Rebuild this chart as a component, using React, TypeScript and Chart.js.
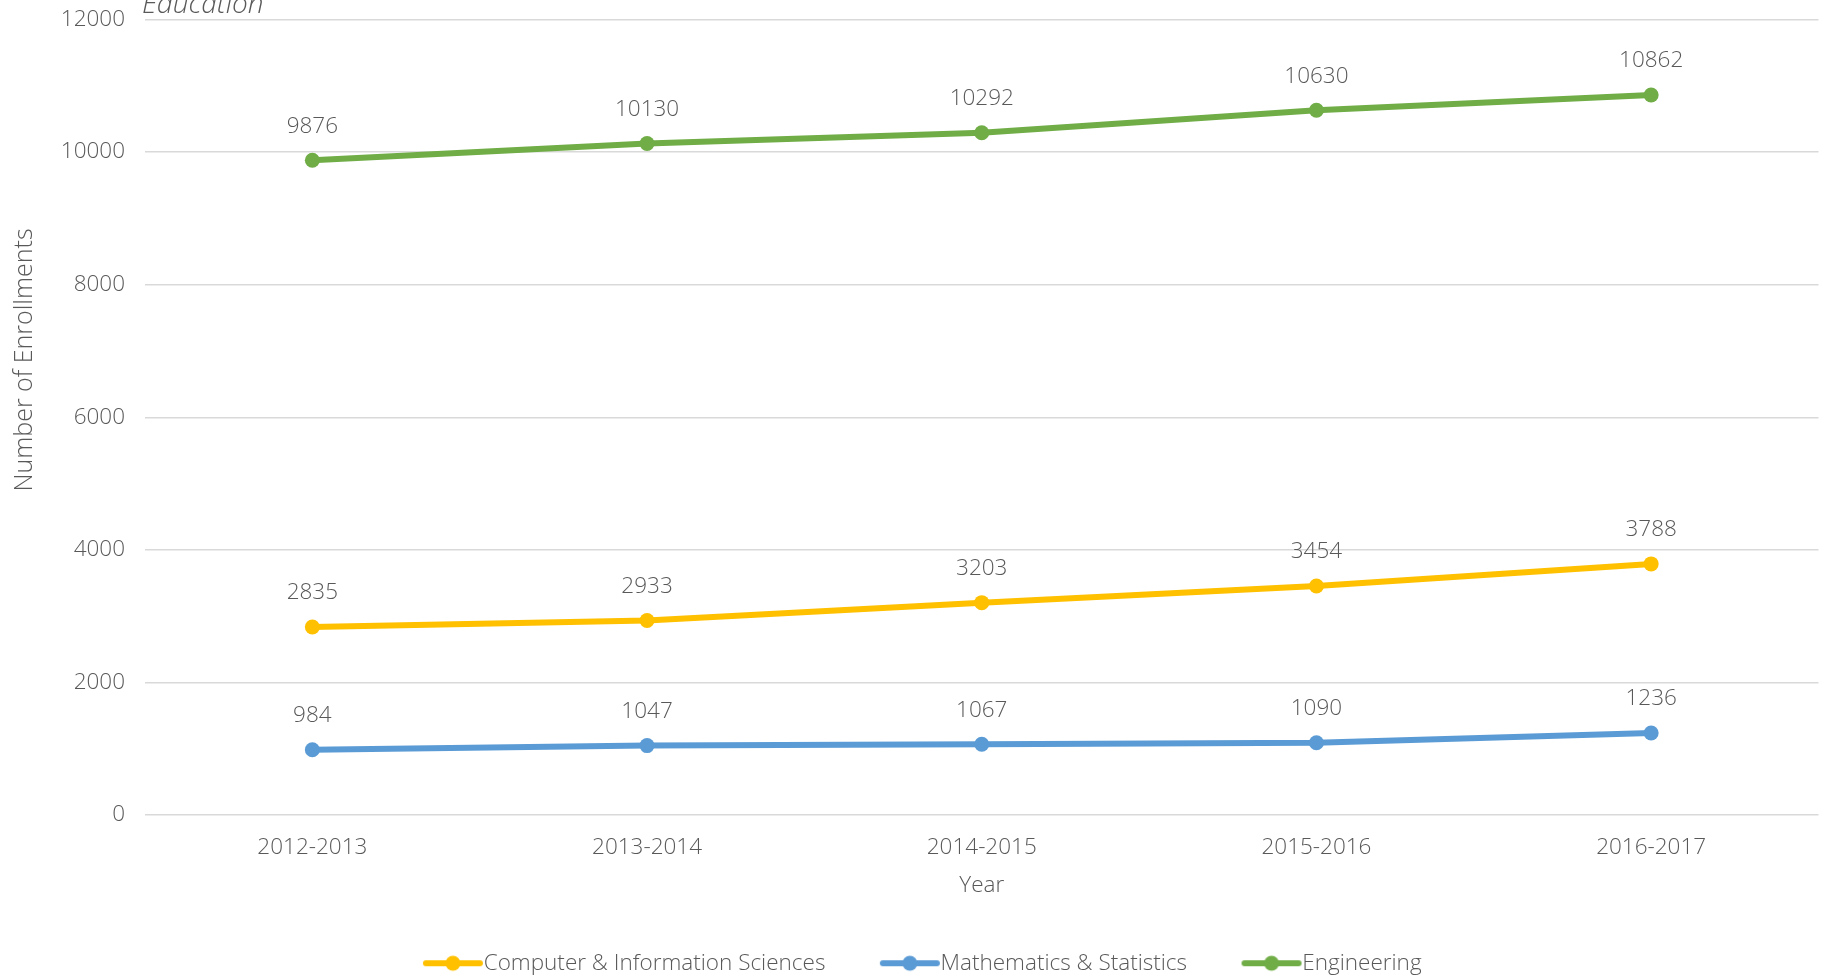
import React, { useEffect, useRef } from "react";
import { Chart, registerables } from "chart.js";

Chart.register(...registerables);

const categories = ["2012-2013", "2013-2014", "2014-2015", "2015-2016", "2016-2017"];
const cisValues = [2835, 2933, 3203, 3454, 3788];
const mathValues = [984, 1047, 1067, 1090, 1236];
const engValues = [9876, 10130, 10292, 10630, 10862];
const seriesNames = ["Computer & Information Sciences", "Mathematics & Statistics", "Engineering"];
const seriesColors = ["#FFC000", "#5B9BD5", "#70AD47"];
const yTitle = "Number of Enrollments";
const xTitle = "Year";
const topTitle = "Education";

const FONT = "'Open Sans', 'Noto Sans', sans-serif";
const TEXT = "#595959";
const FS = 22.5;
const BOXW = 94;

function makeLegendImage(color: string): HTMLCanvasElement {
  const W = Math.round(BOXW + FS);
  const H = 18;
  const c = document.createElement("canvas");
  c.width = W;
  c.height = H;
  const ctx = c.getContext("2d")!;
  const end = W - 1;
  const start = end - 60;
  ctx.strokeStyle = color;
  ctx.lineWidth = 6;
  ctx.lineCap = "round";
  ctx.beginPath();
  ctx.moveTo(start + 3, H / 2);
  ctx.lineTo(end - 3, H / 2);
  ctx.stroke();
  ctx.fillStyle = color;
  ctx.beginPath();
  ctx.arc((start + end) / 2, H / 2, 7.5, 0, Math.PI * 2);
  ctx.fill();
  return c;
}

const dataLabelPlugin = {
  id: "dataLabels",
  afterDatasetsDraw(chart: any) {
    const ctx = chart.ctx;
    ctx.save();
    ctx.font = `300 ${FS}px ${FONT}`;
    ctx.fillStyle = TEXT;
    ctx.textAlign = "center";
    ctx.textBaseline = "middle";
    chart.data.datasets.forEach((ds: any, i: number) => {
      const meta = chart.getDatasetMeta(i);
      meta.data.forEach((pt: any, j: number) => {
        ctx.fillText(String(ds.data[j]), pt.x, pt.y - 34);
      });
    });
    ctx.restore();
  },
};

const legendShiftPlugin = {
  id: "legendShift",
  afterLayout(chart: any) {
    if (chart.legend) {
      chart.legend.left -= 10;
      chart.legend.right -= 10;
    }
  },
};

const extraTextPlugin = {
  id: "extraText",
  afterDraw(chart: any) {
    const ctx = chart.ctx;
    ctx.save();
    ctx.fillStyle = TEXT;
    ctx.font = `italic 300 28px ${FONT}`;
    ctx.textAlign = "left";
    ctx.textBaseline = "alphabetic";
    ctx.fillText(topTitle, 142, 13);
    ctx.translate(25, 360);
    ctx.rotate(-Math.PI / 2);
    ctx.font = `300 25px ${FONT}`;
    ctx.textAlign = "center";
    ctx.textBaseline = "middle";
    ctx.fillText(yTitle, 0, 0);
    ctx.restore();
  },
};

export default function App() {
  const ref = useRef<HTMLCanvasElement | null>(null);
  useEffect(() => {
    document.body.style.margin = "0";
    const images = seriesColors.map(makeLegendImage);
    const values = [cisValues, mathValues, engValues];
    const chart = new Chart(ref.current!, {
      type: "line",
      data: {
        labels: categories,
        datasets: seriesNames.map((name, i) => ({
          label: name,
          data: values[i],
          borderColor: seriesColors[i],
          backgroundColor: seriesColors[i],
          borderWidth: 6,
          pointRadius: 7.5,
          pointBorderWidth: 0,
          pointBackgroundColor: seriesColors[i],
          tension: 0,
          fill: false,
        })),
      },
      options: {
        animation: false,
        responsive: false,
        maintainAspectRatio: false,
        layout: { padding: { top: 19.5, right: 6, bottom: -6.5, left: 0 } },
        plugins: {
          tooltip: { enabled: false },
          legend: {
            position: "bottom",
            labels: {
              usePointStyle: true,
              pointStyleWidth: BOXW,
              padding: 10,
              color: TEXT,
              font: { family: FONT, size: FS, weight: "300" as any },
              generateLabels: () =>
                seriesNames.map((name, i) => ({
                  text: name,
                  pointStyle: images[i],
                  fillStyle: seriesColors[i],
                  strokeStyle: seriesColors[i],
                  lineWidth: 0,
                  hidden: false,
                  datasetIndex: i,
                  fontColor: TEXT,
                })) as any,
            },
          },
        },
        scales: {
          x: {
            offset: true,
            afterFit: (scale: any) => {
              scale.height = 127;
            },
            grid: { display: false, drawTicks: false },
            border: { display: false },
            ticks: { color: TEXT, padding: 19, font: { family: FONT, size: FS, weight: "300" as any } },
            title: {
              display: true,
              text: xTitle,
              color: TEXT,
              padding: { top: 10, bottom: 43 },
              font: { family: FONT, size: FS, weight: "300" as any },
            },
          },
          y: {
            min: 0,
            max: 12000,
            afterFit: (scale: any) => {
              scale.width = 145;
              scale.paddingTop = 0;
              scale.paddingBottom = 0;
            },
            grid: { color: "#D9D9D9", lineWidth: 1.5, drawTicks: false },
            border: { display: false },
            ticks: {
              stepSize: 2000,
              padding: 20,
              color: TEXT,
              font: { family: FONT, size: FS, weight: "300" as any },
              callback: (v: any) => String(v),
            },
          },
        },
      },
      plugins: [dataLabelPlugin, legendShiftPlugin, extraTextPlugin],
    });
    return () => chart.destroy();
  }, []);
  return (
    <div style={{ width: 1826, height: 978 }}>
      <canvas ref={ref} width={1826} height={978} style={{ display: "block", width: 1826, height: 978 }} />
    </div>
  );
}
